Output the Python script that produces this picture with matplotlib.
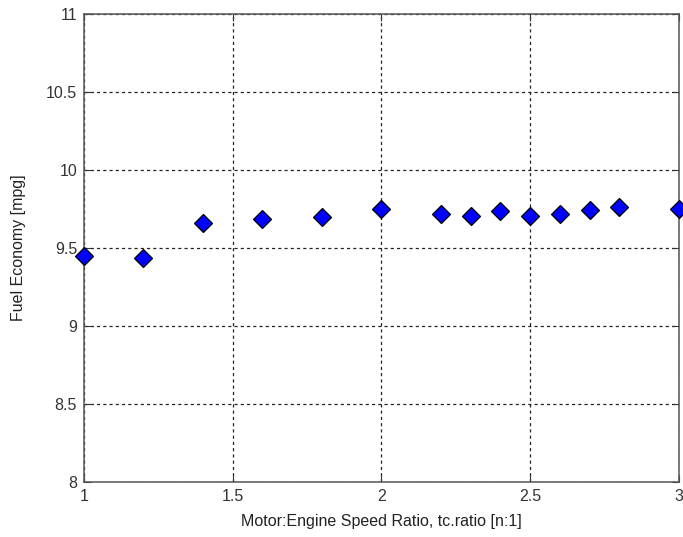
import matplotlib
matplotlib.use('Agg')
import matplotlib.pyplot as plt

plt.rcParams['font.family'] = ['Liberation Sans', 'DejaVu Sans']

# speed ratio sweep vs fuel economy
tc_ratio = [1.0, 1.2, 1.4, 1.6, 1.8, 2.0, 2.2, 2.3, 2.4, 2.5, 2.6, 2.7, 2.8, 3.0]
mpg = [9.451, 9.438, 9.663, 9.685, 9.696, 9.748, 9.721, 9.702, 9.736, 9.704,
       9.721, 9.743, 9.764, 9.753]

xticks = [1, 1.5, 2, 2.5, 3]
xticklabels = ['1', '1.5', '2', '2.5', '3']
yticks = [8, 8.5, 9, 9.5, 10, 10.5, 11]
yticklabels = ['8', '8.5', '9', '9.5', '10', '10.5', '11']

fig = plt.figure(figsize=(6.83, 5.37), dpi=100)
ax = fig.add_axes([0.123, 0.1024, 0.871, 0.8716])

ax.plot(tc_ratio, mpg, linestyle='none', marker='D', markersize=9.5,
        markerfacecolor='#0000ff', markeredgecolor='black', markeredgewidth=0.9,
        clip_on=False, zorder=5)

ax.set_xlim(1, 3)
ax.set_ylim(8, 11)
ax.set_xticks(xticks)
ax.set_xticklabels(xticklabels)
ax.set_yticks(yticks)
ax.set_yticklabels(yticklabels)

ax.grid(True, color='#222222', linestyle=(0, (2.5, 2.5)), linewidth=0.9)
ax.tick_params(direction='in', length=5, width=0.8, labelsize=11.5,
               top=True, right=True, colors='#333333', pad=5)
for s in ax.spines.values():
    s.set_color('#555555')
    s.set_linewidth(1.1)

ax.set_xlabel('Motor:Engine Speed Ratio, tc.ratio [n:1]', fontsize=11.5, color='#222222', labelpad=7)
ax.set_ylabel('Fuel Economy [mpg]', fontsize=11.5, color='#222222', labelpad=14)

plt.savefig('out.png', dpi=100)
